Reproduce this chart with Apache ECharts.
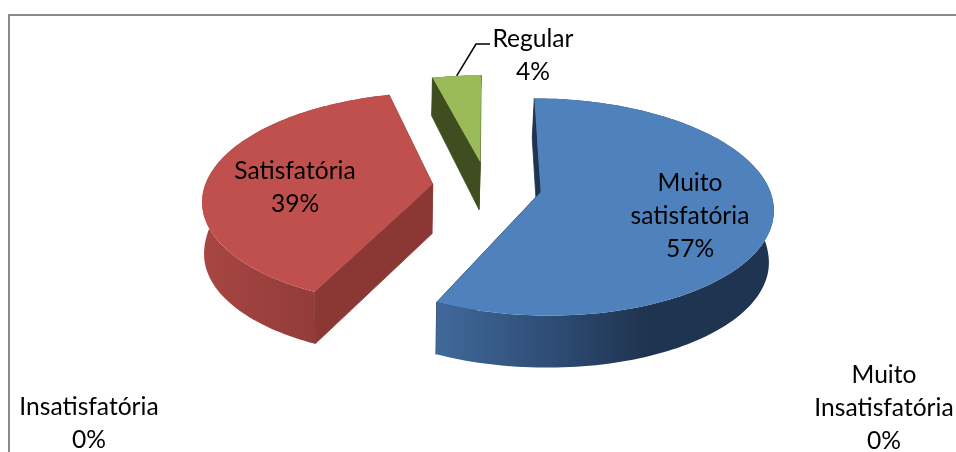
<!DOCTYPE html>
<html><head><meta charset="utf-8">
<style>html,body{margin:0;padding:0;background:#fff}#c{width:956px;height:452px}</style>
<script src="https://cdn.jsdelivr.net/npm/echarts@6/dist/echarts.min.js"></script>
</head><body><div id="c"></div>
<script>
const categories = ['Muito\nsatisfatória', 'Satisfatória', 'Regular', 'Insatisfatória', 'Muito\nInsatisfatória'];
const values = [57, 39, 4, 0, 0];
const topColors = ['#4f81bd', '#c0504d', '#9bbb59', '#8064a2', '#4bacc6'];
const radialWallColors = ['#1f3450', '#8b3835', '#3f4d20', '#000', '#000'];
const rimWallStops = [
  [[0, '#40699a'], [0.3, '#30507a'], [0.62, '#1f3450'], [1, '#1f3450']],
  [[0, '#a84643'], [0.8, '#8b3835'], [1, '#8b3835']],
  [[0, '#3f4d20'], [1, '#3f4d20']],
  [[0, '#000'], [1, '#000']],
  [[0, '#000'], [1, '#000']]
];
const labelAnchors = [[690, 216], [295, 188], [533, 56], [89, 424], [884, 408]];

const cx = 487, cy = 186.5, Rx = 228, Ry = 105, persp = 0.137, explode = 0.24, depth = 50;
const bottomShrink = 0.988, shrinkX = 365;
const total = values.reduce((a, b) => a + b, 0);

function project(X, Y, low) {
  const s = 1 / (1 + persp * Y);
  let x = cx + Rx * X * s, y = cy - Ry * Y * s;
  if (low) {
    x = shrinkX + (x - shrinkX) * bottomShrink;
    y += Math.min(52, depth * Math.pow(s, 1.8));
  }
  return [x, y];
}

function renderItem(params, api) {
  const i = params.dataIndex;
  const value = api.value(0);
  const children = [];
  const before = values.slice(0, i).reduce((a, b) => a + b, 0);
  if (value > 0) {
    const a0 = before / total * 2 * Math.PI, a1 = (before + value) / total * 2 * Math.PI;
    const mid = (a0 + a1) / 2;
    const ax = explode * Math.sin(mid), ay = explode * Math.cos(mid);
    const n = Math.max(6, Math.round((a1 - a0) * 40));
    const rim = [];
    for (let k = 0; k <= n; k++) {
      const a = a0 + (a1 - a0) * k / n;
      rim.push([ax + Math.sin(a), ay + Math.cos(a)]);
    }
    const topRim = rim.map(p => project(p[0], p[1], false));
    const lowRim = rim.map(p => project(p[0], p[1], true));
    const apexTop = project(ax, ay, false), apexLow = project(ax, ay, true);
    const xs = lowRim.concat(topRim).map(p => p[0]);
    const radialWall = k => ({ type: 'polygon', shape: { points: [apexTop, topRim[k], lowRim[k], apexLow] },
      style: { fill: radialWallColors[i], stroke: radialWallColors[i], lineWidth: 0.8 } });
    // far radial wall, outer wall, near radial wall, top face
    children.push(radialWall(n));
    children.push({ type: 'polygon', shape: { points: topRim.concat(lowRim.slice().reverse()) },
      style: { fill: { type: 'linear', global: true, x: Math.min(...xs), y: 0, x2: Math.max(...xs), y2: 0,
        colorStops: rimWallStops[i].map(s => ({ offset: s[0], color: s[1] })) } } });
    children.push(radialWall(0));
    children.push({ type: 'polygon', shape: { points: [apexTop].concat(topRim) },
      style: { fill: topColors[i] } });
    if (i === 2) {
      const m = project(ax + Math.sin(mid), ay + Math.cos(mid), false);
      children.push({ type: 'polyline', shape: { points: [m, [476, 44], [490, 44]] },
        style: { stroke: '#000', lineWidth: 1.5, fill: 'none' } });
    }
  }
  children.push({ type: 'text', x: labelAnchors[i][0], y: labelAnchors[i][1],
    style: { text: api.value(1) + '\n' + value + '%', fill: '#000', align: 'center', verticalAlign: 'middle',
      font: '24.6px Lato, "Open Sans", sans-serif', lineHeight: 33 } });
  return { type: 'group', children };
}

const chart = echarts.init(document.getElementById('c'), null, { renderer: 'canvas' });
chart.setOption({
  animation: false,
  backgroundColor: '#fff',
  graphic: [{ type: 'polyline', shape: { points: [[9, 452], [9, 15], [956, 15]] },
    style: { stroke: '#8a8a8a', lineWidth: 2, fill: 'none' } }],
  series: [{
    type: 'custom', coordinateSystem: 'none', renderItem,
    data: values.map((v, i) => [v, categories[i]]),
    dimensions: [{ name: 'v', type: 'number' }, { name: 'c', type: 'ordinal' }]
  }]
});
</script></body></html>
